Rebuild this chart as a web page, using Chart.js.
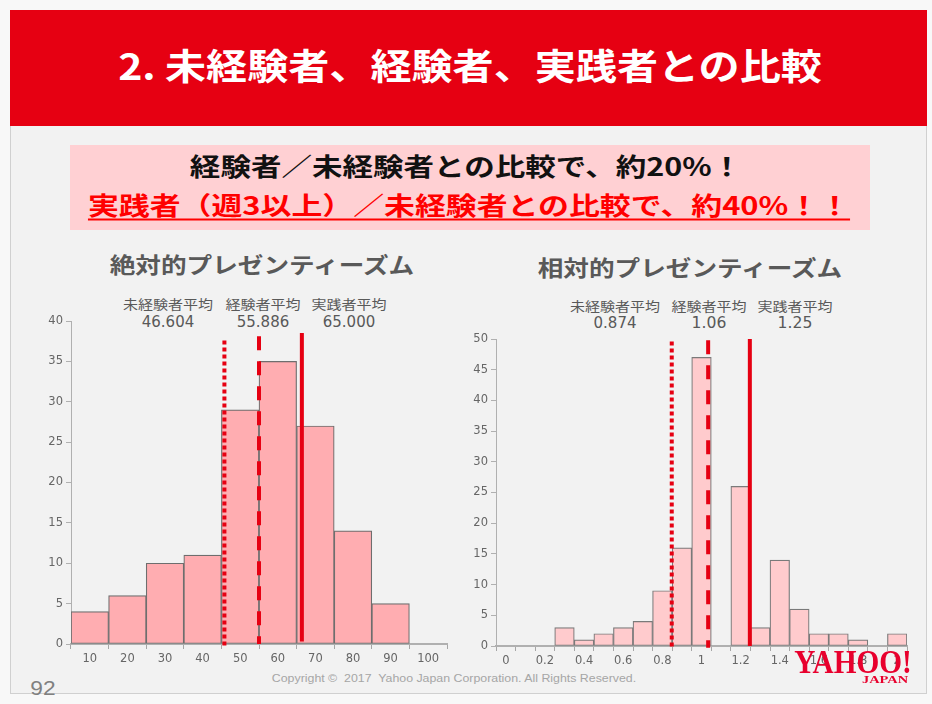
<!DOCTYPE html>
<html>
<head>
<meta charset="utf-8">
<script src="https://cdn.jsdelivr.net/npm/chart.js@4.4.1/dist/chart.umd.min.js"></script>
<style>
  body { margin: 0; background: #f8f8f8; width: 932px; height: 704px; overflow: hidden; position: relative;
         font-family: "Noto Sans CJK JP", "Noto Sans", sans-serif; }
  #slide { position: absolute; left: 10px; top: 10px; width: 915px; height: 682px; background: #f2f2f2;
           border: 1px solid #d0d0d0; }
  #header { position: absolute; left: 10px; top: 10px; width: 917px; height: 116px; background: #e60012; }
  #box { position: absolute; left: 70px; top: 145px; width: 800px; height: 85px; background: #ffd0d3; }
  .t { position: absolute; white-space: nowrap; line-height: 1; transform-origin: 50% 50%; }
  canvas { position: absolute; }
</style>
</head>
<body>
<div id="slide"></div>
<div id="header"></div>
<div id="box"></div>

<div class="t" data-x="470" data-y="64" data-w="704" style="color:#fff;font-weight:bold;font-size:36px;">2. 未経験者、経験者、実践者との比較</div>
<div class="t" data-x="466" data-y="165" data-w="552" style="color:#111;font-weight:bold;font-size:25px;">経験者／未経験者との比較で、約20%！</div>
<div class="t" data-x="469" data-y="204" data-w="762" style="color:#ff0000;font-weight:bold;font-size:25px;text-decoration:underline;text-underline-offset:4px;">実践者（週3以上）／未経験者との比較で、約40%！！</div>

<div class="t" data-x="262" data-y="263" data-w="305" style="color:#595959;font-weight:bold;font-size:22px;">絶対的プレゼンティーズム</div>
<div class="t" data-x="690" data-y="266" data-w="305" style="color:#595959;font-weight:bold;font-size:22px;">相対的プレゼンティーズム</div>

<div id="notes"></div>

<div class="t" data-x="43" data-y="688" data-w="25" style="color:#808080;font-size:20px;font-family:'Liberation Sans',sans-serif;">92</div>
<div class="t" data-x="454" data-y="678" data-w="364" style="color:#a6a6a6;font-size:11px;font-family:'Liberation Sans Narrow','Liberation Sans',sans-serif;">Copyright ©&nbsp; 2017&nbsp; Yahoo Japan Corporation. All Rights Reserved.</div>

<canvas id="absChart" width="440" height="380" style="left:20px;top:300px;"></canvas>
<canvas id="relChart" width="460" height="380" style="left:460px;top:300px;"></canvas>

<div class="t" data-x="853" data-y="662" data-w="118" style="color:#e8002d;font-weight:bold;font-size:34px;font-family:'Liberation Serif',serif;">YAHOO!</div>
<div class="t" data-x="885" data-y="680" data-w="46" style="color:#e8002d;font-weight:bold;font-size:10px;font-family:'Liberation Serif',serif;">JAPAN</div>

<script>
// 絶対的プレゼンティーズム
const absLabels = ['10', '20', '30', '40', '50', '60', '70', '80', '90', '100'];
const absCounts = [4, 6, 10, 11, 29, 35, 27, 14, 5, 0];
const absMeanText = ['46.604', '55.886', '65.000'];
const absMeanPos = [45.8, 55.0, 66.4];
const absLineTop = [37.6, 38.1, 38.5];
const absLineBottom = [-0.5, 0, 0.3];

// 相対的プレゼンティーズム
const relLabels = ['0', '0.1', '0.2', '0.3', '0.4', '0.5', '0.6', '0.7', '0.8', '0.9', '1',
                   '1.1', '1.2', '1.3', '1.4', '1.5', '1.6', '1.7', '1.8', '1.9', '2'];
const relCounts = [0, 0, 0, 3, 1, 2, 3, 4, 9, 16, 47, 0, 26, 3, 14, 6, 2, 2, 1, 0, 2];
const relMeanText = ['0.874', '1.06', '1.25'];
const relMeanPos = [0.848, 1.034, 1.247];
const relLineTop = [49.6, 49.8, 50];
const relLineBottom = [-0.5, -0.3, 0];

const groupNames = ['未経験者平均', '経験者平均', '実践者平均'];
const absNoteX = [168, 263, 349];
const relNoteX = [615, 709, 795];

const lineDash = [[4, 3], [14, 11], []];
const red = '#e60012';
const gray = '#595959';
const tickFont = { family: 'DejaVu Sans', size: 11.5 };

function meanLines(pos, top, bottom) {
  return pos.map((p, i) => ({
    type: 'line',
    xAxisID: 'x2',
    data: [{ x: p, y: top[i] }, { x: p, y: bottom[i] }],
    borderColor: red,
    borderWidth: 4,
    borderDash: lineDash[i],
    borderCapStyle: 'butt',
    pointRadius: 0,
    clip: false,
    order: 0,
  }));
}

function makeChart(id, labels, counts, fill, edge, yMax, x2min, x2max, lines, pad, yW, xH, skipOdd) {
  return new Chart(document.getElementById(id), {
    type: 'bar',
    data: {
      labels: labels,
      datasets: [{
        data: counts,
        backgroundColor: fill,
        borderColor: edge,
        borderWidth: 1.2,
        borderSkipped: false,
        grouped: false,
        categoryPercentage: 1,
        barPercentage: 1,
        order: 1,
      }].concat(lines),
    },
    options: {
      responsive: false,
      animation: false,
      layout: { padding: pad },
      plugins: { legend: { display: false }, tooltip: { enabled: false } },
      scales: {
        x: {
          type: 'category',
          offset: true,
          grid: { drawOnChartArea: false, drawTicks: true, tickLength: 5, color: '#a6a6a6', offset: true },
          border: { color: '#b0b0b0', width: 2 },
          ticks: {
            color: '#666', font: tickFont, maxRotation: 0, autoSkip: false, padding: 3,
            callback: (v, i) => (skipOdd && i % 2) ? '' : labels[i],
          },
          afterFit: (s) => { s.height = xH; },
        },
        x2: { type: 'linear', min: x2min, max: x2max, offset: false, display: false },
        y: {
          min: 0, max: yMax,
          grid: { drawOnChartArea: false, drawTicks: true, tickLength: 5, color: '#b0b0b0' },
          border: { color: '#b0b0b0', width: 1 },
          ticks: { stepSize: 5, color: '#666', font: tickFont, padding: 3 },
          afterFit: (s) => { s.width = yW; },
        },
      },
    },
  });
}

makeChart('absChart', absLabels, absCounts, '#ffadb1', '#6e6e6e', 40, 5, 105,
  meanLines(absMeanPos, absLineTop, absLineBottom),
  { left: 0, right: 13, top: 21, bottom: 0 }, 51, 36, false);

makeChart('relChart', relLabels, relCounts, '#ffcbcd', '#7a7a7a', 50, -0.05, 2.05,
  meanLines(relMeanPos, relLineTop, relLineBottom),
  { left: 0, right: 13, top: 39, bottom: 0 }, 36, 34, true);

// mean annotations
const notes = document.getElementById('notes');
function addNote(text, x, y, w, size) {
  const d = document.createElement('div');
  d.className = 't';
  d.textContent = text;
  d.dataset.x = x; d.dataset.y = y; d.dataset.w = w;
  d.style.color = gray;
  d.style.fontSize = size + 'px';
  notes.appendChild(d);
}
groupNames.forEach((g, i) => {
  addNote(g, absNoteX[i], 303, i === 0 ? 90 : 75, 13);
  addNote(absMeanText[i], absNoteX[i], 322, 53, 15);
  addNote(g, relNoteX[i], 305, i === 0 ? 90 : 75, 13);
  addNote(relMeanText[i], relNoteX[i], 323, relMeanText[i].length * 8.6, 15);
});
document.querySelectorAll('#notes .t').forEach((d) => {
  if (/^[0-9.]+$/.test(d.textContent)) d.style.fontFamily = "'DejaVu Sans', sans-serif";
});

function fitText() {
  document.querySelectorAll('.t').forEach((el) => {
    const x = +el.dataset.x, y = +el.dataset.y, w = +el.dataset.w;
    el.style.left = x + 'px';
    el.style.top = y + 'px';
    const k = w / el.offsetWidth;
    el.style.transform = 'translate(-50%, -50%) scaleX(' + k.toFixed(3) + ')';
  });
}
fitText();
if (document.fonts && document.fonts.ready) document.fonts.ready.then(fitText);
</script>
</body>
</html>
